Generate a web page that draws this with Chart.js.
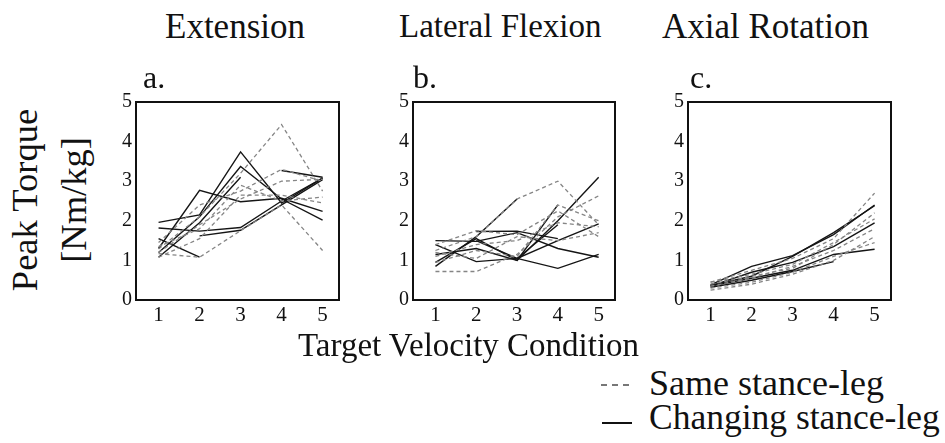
<!DOCTYPE html>
<html>
<head>
<meta charset="utf-8">
<script src="https://cdn.jsdelivr.net/npm/chart.js@4/dist/chart.umd.min.js"></script>
<style>
  html, body { margin:0; padding:0; background:#fff; }
  body { width:945px; height:443px; position:relative; overflow:hidden; font-family:"Liberation Serif","Times New Roman",Times,Tinos,"DejaVu Serif","Noto Serif",serif; color:#111; }
  .t { position:absolute; white-space:nowrap; line-height:1; font-size:33px; }
  .c { position:absolute; }
  .leg { position:absolute; height:1.6px; }
</style>
</head>
<body>
<script>
// ---- data ----
const categories = [1, 2, 3, 4, 5];
const yTicks = [0, 1, 2, 3, 4, 5];
const panelTitles = ["Extension", "Lateral Flexion", "Axial Rotation"];
const panelLetters = ["a.", "b.", "c."];
const yTitleLines = ["Peak Torque", "[Nm/kg]"];
const xTitle = "Target Velocity Condition";
const legendLabels = ["Same stance-leg", "Changing stance-leg"];

// Extension - changing stance-leg (solid)
const extChanging = [
  [1.96, 2.15, 3.74, 2.45, 3.08],
  [1.30, 2.77, 2.48, 2.57, 2.24],
  [1.82, 1.74, 1.83, 2.50, 3.08],
  [null, 1.62, 1.76, 2.40, 3.04],
  [1.55, 1.08, null, null, null],
  [1.08, 1.95, 3.10, null, null],
  [1.20, 2.10, 3.37, 2.55, 2.02],
  [null, null, null, 3.27, 3.10]
];
// Extension - same stance-leg (dashed)
const extSame = [
  [1.29, 2.10, 3.20, 4.43, 2.75],
  [1.45, 2.40, 2.75, 3.30, 3.00],
  [1.17, 1.08, 1.75, 2.40, 1.25],
  [1.08, 1.55, 2.65, 2.65, 2.45],
  [1.35, 1.80, 2.90, 2.50, 2.60],
  [1.20, 1.90, 2.55, 3.00, 3.05]
];
// Lateral flexion - changing (solid)
const latChanging = [
  [1.50, 1.48, 1.70, 1.30, 1.08],
  [null, 1.73, 1.74, 1.55, null],
  [0.85, 1.60, 2.55, null, null],
  [0.95, 1.55, 1.00, 2.00, 3.10],
  [1.40, 0.97, 1.05, 0.80, 1.15],
  [1.15, 1.30, 1.00, 2.40, null],
  [null, 1.50, 1.05, 1.50, 1.92],
  [null, null, 1.05, 1.90, null]
];
// Lateral flexion - same (dashed)
const latSame = [
  [0.72, 0.72, 1.15, 2.10, 2.63],
  [1.25, 1.60, 2.55, 3.00, 1.90],
  [1.40, 1.75, 1.65, 2.25, 1.60],
  [1.10, 1.40, 1.50, 1.95, 1.85],
  [0.95, 1.25, 1.10, 2.40, 2.00],
  [1.20, 1.05, 1.60, 1.50, 1.70]
];
// Axial rotation - changing (solid)
const axChanging = [
  [0.38, 0.85, 1.12, 1.65, 2.40],
  [0.35, 0.70, 0.95, 1.35, 1.95],
  [0.35, 0.55, 0.75, 1.15, 1.28],
  [0.32, 0.50, 0.72, 0.97, null],
  [0.37, 0.60, 1.10, 1.70, 2.38]
];
// Axial rotation - same (dashed)
const axSame = [
  [0.45, 0.75, 1.05, 1.55, 2.70],
  [0.40, 0.60, 0.80, 1.40, 2.20],
  [0.30, 0.45, 0.70, 1.10, 1.45],
  [0.35, 0.55, 0.85, 1.25, 1.80],
  [0.25, 0.40, 0.65, 1.00, 1.60],
  [0.45, 0.65, 0.90, 1.45, 2.05]
];

const panelsData = [
  { same: extSame, changing: extChanging },
  { same: latSame, changing: latChanging },
  { same: axSame, changing: axChanging }
];

const FONT = "'Liberation Serif', 'Times New Roman', serif";
Chart.defaults.font.family = FONT;
Chart.defaults.font.size = 21;
Chart.defaults.color = '#111';

// ---- layout (box edges in page pixels) ----
const boxes = [
  { L: 136, R: 339 },
  { L: 413, R: 615 },
  { L: 688, R: 891 }
];
const boxTop = 96, boxBottom = 300;
const yAxisW = 40, xAxisH = 30, padTop = 10, padRight = 8;

function addText(txt, left, baseline, size, extra) {
  const d = document.createElement('div');
  d.className = 't';
  d.textContent = txt;
  d.style.fontSize = size + 'px';
  d.style.left = left + 'px';
  d.style.top = (baseline - size * 0.8375) + 'px';
  if (extra) Object.assign(d.style, extra);
  document.body.appendChild(d);
  return d;
}

const boxPlugin = {
  id: 'boxPlugin',
  afterDatasetsDraw(chart) {
    const a = chart.chartArea, ctx = chart.ctx;
    ctx.save();
    ctx.strokeStyle = '#111';
    ctx.lineWidth = 2;
    ctx.strokeRect(a.left, a.top, a.right - a.left, a.bottom - a.top);
    ctx.restore();
  }
};

function toPoints(arr) {
  return categories.map((c, i) => ({ x: c, y: arr[i] }));
}

panelsData.forEach((p, k) => {
  const b = boxes[k];
  const cv = document.createElement('canvas');
  cv.className = 'c';
  const w = (b.R - b.L) + yAxisW + padRight;
  const h = (boxBottom - boxTop) + padTop + xAxisH;
  cv.style.left = (b.L - yAxisW) + 'px';
  cv.style.top = (boxTop - padTop) + 'px';
  cv.style.width = w + 'px';
  cv.style.height = h + 'px';
  cv.width = w; cv.height = h;
  document.body.appendChild(cv);

  const datasets = [];
  p.same.forEach(s => datasets.push({
    data: toPoints(s), borderColor: '#858585', borderWidth: 1.3,
    borderDash: [4, 3], pointRadius: 0, tension: 0, spanGaps: false, fill: false
  }));
  p.changing.forEach(s => datasets.push({
    data: toPoints(s), borderColor: '#151515', borderWidth: 1.4,
    pointRadius: 0, tension: 0, spanGaps: false, fill: false
  }));

  new Chart(cv, {
    type: 'line',
    data: { datasets },
    plugins: [boxPlugin],
    options: {
      responsive: false,
      animation: false,
      layout: { padding: { left: 0, top: padTop, right: padRight, bottom: 0 } },
      plugins: { legend: { display: false }, tooltip: { enabled: false } },
      scales: {
        x: {
          type: 'linear', min: 0.45, max: 5.4,
          grid: { display: false, drawTicks: false },
          border: { display: false },
          afterBuildTicks: s => { s.ticks = categories.map(v => ({ value: v })); },
          afterFit: s => { s.height = xAxisH; },
          ticks: { color: '#111', padding: 3, maxRotation: 0, autoSkip: false,
                   font: { family: FONT, size: 21 } }
        },
        y: {
          type: 'linear', min: 0, max: 5,
          grid: { display: false, drawTicks: false },
          border: { display: false },
          afterBuildTicks: s => { s.ticks = yTicks.map(v => ({ value: v })); },
          afterFit: s => { s.width = yAxisW; },
          ticks: { color: '#111', padding: 4,
                   font: { family: FONT, size: 20 } }
        }
      }
    }
  });
});

// ---- text ----
addText(panelTitles[0], 165, 38, 35);
addText(panelTitles[1], 399, 38, 33);
addText(panelTitles[2], 662, 38, 35);
addText(panelLetters[0], 143, 88, 32);
addText(panelLetters[1], 413, 88, 32);
addText(panelLetters[2], 690, 88, 32);
addText(xTitle, 298, 357, 33);
addText(legendLabels[0], 649, 395, 36);
addText(legendLabels[1], 649, 430, 35.5);

// y title: rotated two lines
[[yTitleLines[0], 25], [yTitleLines[1], 74]].forEach(([txt, cx]) => {
  const d = document.createElement('div');
  d.className = 't';
  d.textContent = txt;
  d.style.fontSize = '36.5px';
  d.style.left = cx + 'px';
  d.style.top = '200px';
  d.style.transform = 'translate(-50%, -50%) rotate(-90deg)';
  d.style.transformOrigin = 'center center';
  document.body.appendChild(d);
});

// legend samples
const l1 = document.createElement('div');
l1.className = 'leg';
Object.assign(l1.style, { left: '601px', top: '384px', width: '30px',
  background: 'repeating-linear-gradient(to right, #777 0 6px, transparent 6px 11px)' });
document.body.appendChild(l1);
const l2 = document.createElement('div');
l2.className = 'leg';
Object.assign(l2.style, { left: '602px', top: '422px', width: '30px', background: '#111' });
document.body.appendChild(l2);
</script>
</body>
</html>
